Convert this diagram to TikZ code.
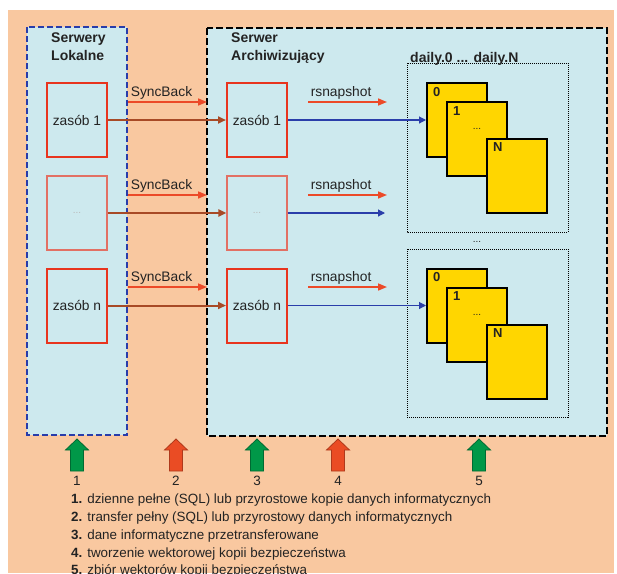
\documentclass[tikz,border=0pt]{standalone}
\usepackage{fontspec}
\setmainfont{Liberation Sans}
\usetikzlibrary{arrows.meta}
\definecolor{bg_orange}{RGB}{249, 200, 160}
\definecolor{srv_blue}{RGB}{205, 233, 238}
\definecolor{frame_blue}{RGB}{40, 60, 170}
\definecolor{res_red}{RGB}{232, 52, 30}
\definecolor{res_pale}{RGB}{226, 112, 100}
\definecolor{sync_brown}{RGB}{168, 74, 38}
\definecolor{cmd_red}{RGB}{236, 74, 40}
\definecolor{snap_blue}{RGB}{42, 62, 170}
\definecolor{card_yellow}{RGB}{255, 214, 0}
\definecolor{up_green}{RGB}{0, 152, 72}
\definecolor{up_red}{RGB}{234, 76, 36}
\definecolor{txt}{RGB}{35, 35, 35}
\tikzstyle{res}=[rectangle,draw=res_red,line width=2pt,minimum width=60pt,
  minimum height=74pt,inner sep=0pt,text=txt,font=\fontsize{13.8}{16}\selectfont]
\tikzstyle{resp}=[res,draw=res_pale,line width=1.3pt,text=gray!55,
  font=\fontsize{10}{12}\selectfont]
\tikzstyle{card}=[rectangle,draw=black,fill=card_yellow,line width=2pt,
  minimum width=60pt,minimum height=74pt]
\tikzstyle{cl}=[anchor=north west,inner xsep=7pt,inner ysep=5pt,text=txt,
  font=\bfseries\fontsize{13}{15}\selectfont]
\tikzstyle{ttl}=[anchor=north west,align=left,inner sep=0pt,text=txt,
  font=\bfseries\fontsize{14}{18}\selectfont]
\tikzstyle{lbl}=[pos=0,anchor=south west,inner sep=2pt,text=txt,
  font=\fontsize{13.8}{16}\selectfont]
\tikzstyle{sync}=[-{Triangle[length=8pt,width=7pt]},draw=sync_brown,line width=2pt]
\tikzstyle{cmd}=[-{Triangle[length=9pt,width=7pt]},draw=cmd_red,line width=1.6pt]
\tikzstyle{snap}=[-{Triangle[length=7pt,width=7pt]},draw=snap_blue,line width=1.1pt]
\tikzstyle{upg}=[fill=up_green,draw=up_green!70!black,line width=0.8pt]
\tikzstyle{upr}=[fill=up_red,draw=up_red!75!black,line width=0.8pt]
\tikzstyle{none}=[]

\begin{document}
\begin{tikzpicture}[x=1pt, y=-1pt]
            \useasboundingbox (0, 0) rectangle (617, 573);
            \fill [bg_orange] (8, 10) rectangle (614, 573);
            \draw [fill=srv_blue, draw=frame_blue, line width=2.2pt, dash pattern=on 6pt off 3pt] (27, 27) rectangle (127, 435);
            \draw [fill=srv_blue, draw=black, line width=2.2pt, dash pattern=on 7pt off 3pt] (207, 28) rectangle (607, 436);
            \draw [densely dotted, line width=1pt] (407, 63) rectangle (568, 232);
            \draw [densely dotted, line width=1pt] (407, 249) rectangle (568, 417);
            \node [style=ttl] (tl) at (51, 33) {Serwery\\Lokalne};
            \node [style=ttl] (ta) at (231, 33) {Serwer\\Archiwizujący};
            \node [style=ttl] (td) at (410, 52) {daily.0 ... daily.N};
            \node [text=txt] (dd) at (477, 242) {...};
            \node [style=res] (l1) at (77, 120) {zasób 1};
            \node [style=resp] (l2) at (77, 213) {...};
            \node [style=res] (l3) at (77, 305.5) {zasób n};
            \node [style=res] (a1) at (257, 120) {zasób 1};
            \node [style=resp] (a2) at (257, 213) {...};
            \node [style=res] (a3) at (257, 305.5) {zasób n};
            \node [style=card, label={[cl]north west:0}] (c10) at (457, 120) {};
            \node [style=card, label={[cl]north west:1}] (c11) at (477, 139) {};
            \node [text=txt] (d1) at (477, 129) {...};
            \node [style=card, label={[cl]north west:N}] (c1N) at (517, 175.5) {};
            \node [style=card, label={[cl]north west:0}] (c20) at (457, 305.5) {};
            \node [style=card, label={[cl]north west:1}] (c21) at (477, 324.5) {};
            \node [text=txt] (d2) at (477, 314.5) {...};
            \node [style=card, label={[cl]north west:N}] (c2N) at (517, 361.5) {};
            \coordinate (s1) at (128, 102);
            \coordinate (s1e) at (207, 102);
            \coordinate (s2) at (128, 195);
            \coordinate (s2e) at (207, 195);
            \coordinate (s3) at (128, 287);
            \coordinate (s3e) at (207, 287);
            \coordinate (r1) at (308, 102);
            \coordinate (r1e) at (387, 102);
            \coordinate (r2) at (308, 195);
            \coordinate (r2e) at (387, 195);
            \coordinate (r3) at (308, 287);
            \coordinate (r3e) at (387, 287);
            \coordinate (b2) at (385, 213);
            \draw [style=cmd] (s1) -- node [style=lbl] (t1) {SyncBack} (s1e);
            \draw [style=cmd] (s2) -- node [style=lbl] (t2) {SyncBack} (s2e);
            \draw [style=cmd] (s3) -- node [style=lbl] (t3) {SyncBack} (s3e);
            \draw [style=cmd] (r1) -- node [style=lbl] (u1) {rsnapshot} (r1e);
            \draw [style=cmd] (r2) -- node [style=lbl] (u2) {rsnapshot} (r2e);
            \draw [style=cmd] (r3) -- node [style=lbl] (u3) {rsnapshot} (r3e);
            \draw [style=sync] (l1) to (a1);
            \draw [style=sync] (l2) to (a2);
            \draw [style=sync] (l3) to (a3);
            \draw [style=snap] (a1) to (c10);
            \draw [style=snap] (a2) to (b2);
            \draw [style=snap] (a3) to (c20);
            \foreach \n/\x/\c in {1/77/upg, 2/176/upr, 3/257/upg, 4/338/upr, 5/479/upg} {
              \draw [style=\c] ({\x-6.5}, 471) -- ({\x-6.5}, 450) -- ({\x-11.5}, 450) -- (\x, 439)
                -- ({\x+11.5}, 450) -- ({\x+6.5}, 450) -- ({\x+6.5}, 471) -- cycle;
              \node [text=txt, font=\fontsize{13.5}{16}\selectfont] (n\n) at (\x, 481) {\n};
            }
            \node [anchor=north west, align=left, inner sep=0pt, text=txt,
              font=\fontsize{13.4}{17.7}\selectfont] (leg) at (71, 494)
              {\textbf{1.} dzienne pełne (SQL) lub przyrostowe kopie danych informatycznych\\
               \textbf{2.} transfer pełny (SQL) lub przyrostowy danych informatycznych\\
               \textbf{3.} dane informatyczne przetransferowane\\
               \textbf{4.} tworzenie wektorowej kopii bezpieczeństwa\\
               \textbf{5.} zbiór wektorów kopii bezpieczeństwa};
\end{tikzpicture}
\end{document}
